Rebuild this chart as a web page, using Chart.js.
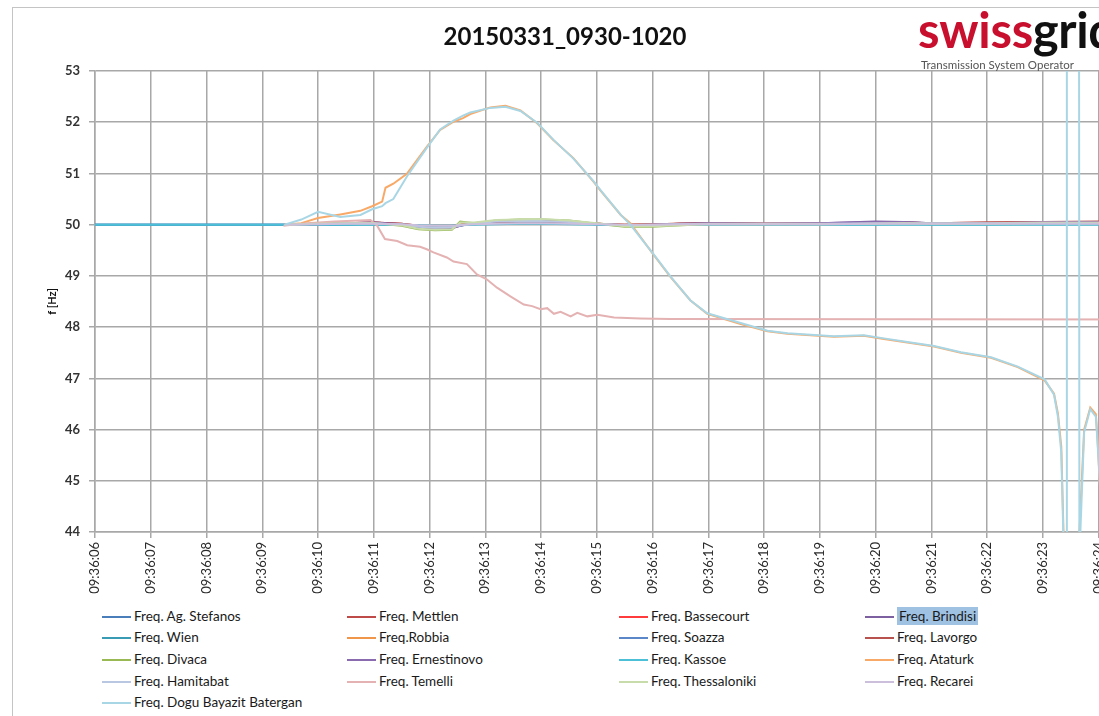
<!DOCTYPE html>
<html>
<head>
<meta charset="utf-8">
<script src="https://cdn.jsdelivr.net/npm/chart.js@4.4.1/dist/chart.umd.min.js"></script>
<style>
  html, body { margin: 0; padding: 0; background: #fff; overflow: hidden; }
  body { width: 1099px; height: 716px; position: relative; font-family: Lato, "Open Sans", sans-serif; }
  .frame { position: absolute; left: 12px; top: 7px; width: 1200px; height: 800px;
           border-left: 1.5px solid #c4c4c4; border-top: 1.5px solid #c4c4c4; }
  #wrap { position: absolute; left: 0; top: 0; width: 1174px; height: 600px; }
  .title { position: absolute; left: 365px; width: 400px; top: 21px; text-align: center;
           font-weight: bold; font-size: 24px; color: #111; }
  .logo { position: absolute; left: 918px; top: 3px; white-space: nowrap; }
  .logo .word { font-weight: bold; font-size: 49px; line-height: 52px; letter-spacing: -0.3px; }
  .logo .red { color: #c8102e; }
  .logo .blk { color: #111; }
  .logo .sub { position: absolute; left: 3px; top: 55px; font-size: 11.5px; color: #555; }
  .leg { position: absolute; height: 18px; line-height: 18px; font-size: 13.5px; color: #1a1a1a; white-space: nowrap; }
  .leg i { display: inline-block; width: 29px; height: 2px; vertical-align: middle; margin-right: 3px; position: relative; top: -1px; }
  .leg span.sel { background: #9fc2e2; padding: 1px 2px; }
</style>
</head>
<body>
<div class="frame"></div>
<div id="wrap"><canvas id="chart"></canvas></div>
<div class="title">20150331_0930-1020</div>
<div class="logo">
  <div class="word"><span class="red">swiss</span><span class="blk">grid</span></div>
  <div class="sub">Transmission System Operator</div>
</div>
<div id="legend"></div>

<script>
// ── TICK LABELS ─────────────────────────────────────────────
const xTickLabels = ['09:36:06', '09:36:07', '09:36:08', '09:36:09', '09:36:10', '09:36:11',
  '09:36:12', '09:36:13', '09:36:14', '09:36:15', '09:36:16', '09:36:17', '09:36:18',
  '09:36:19', '09:36:20', '09:36:21', '09:36:22', '09:36:23', '09:36:24', '09:36:25'];

const seriesNames = ['Freq. Ag. Stefanos', 'Freq. Mettlen', 'Freq. Bassecourt', 'Freq. Brindisi',
  'Freq. Wien', 'Freq.Robbia', 'Freq. Soazza', 'Freq. Lavorgo',
  'Freq. Divaca', 'Freq. Ernestinovo', 'Freq. Kassoe', 'Freq. Ataturk',
  'Freq. Hamitabat', 'Freq. Temelli', 'Freq. Thessaloniki', 'Freq. Recarei',
  'Freq. Dogu Bayazit Batergan'];

const seriesColors = ['#4a7ebb', '#be4b48', '#ff3b3b', '#7d60a0',
  '#3a9bb5', '#f0964a', '#5b87c8', '#b8524e',
  '#98b954', '#8a6bb0', '#4bc0d6', '#f9a967',
  '#b9c7e2', '#e4b2b2', '#c8dbaa', '#cbbfdc',
  '#a9d6e5'];

// ── TIME BASES (seconds after 09:36:00) ─────────────────────
const tFlat = [6, 9.4, 10, 10.5, 11, 11.5, 11.8, 12.1, 12.4, 12.55, 12.8, 13.2, 13.6, 14.0,
  14.5, 15.0, 15.5, 16, 16.5, 17, 18, 19, 20, 20.5, 21, 22, 23, 24, 25];

const tRise = [9.4, 9.7, 10.0, 10.4, 10.76, 10.97, 11.15, 11.21, 11.35, 11.6, 11.95, 12.19,
  12.43, 12.6, 12.73, 13.09, 13.36, 13.63, 13.93, 14.22, 14.58, 14.94, 15.07, 15.43, 15.6,
  16.02, 16.32, 16.68, 16.98, 17.58, 18.06, 18.42, 19.25, 19.79, 20.15, 20.57, 21.05, 21.53,
  22.07, 22.55, 23.03, 23.2, 23.27, 23.33, 23.37, 23.42, 23.43, 23.645, 23.655, 23.74, 23.85,
  23.95, 23.98, 24.02, 24.1, 24.3, 25];

const tTemelli = [9.38, 9.8, 10.3, 10.94, 11.06, 11.2, 11.42, 11.6, 11.83, 11.95, 12.07, 12.31,
  12.43, 12.67, 12.85, 13.03, 13.21, 13.45, 13.69, 13.84, 13.99, 14.11, 14.23, 14.35, 14.53,
  14.65, 14.83, 15.01, 15.31, 15.78, 16.32, 25];

// ── SERIES VALUES [Hz] ──────────────────────────────────────
const agStefanos  = [50.0, 50.0, 50.0, 50.01, 50.02, 50.0, 49.97, 49.96, 49.97, 49.99, 50.02, 50.04, 50.05, 50.05, 50.04, 50.01, 49.99, 50.0, 50.01, 50.02, 50.01, 50.01, 50.02, 50.03, 50.02, 50.02, 50.03, 50.03, 50.03];
const mettlen     = [null, 50.0, 50.01, 50.03, 50.04, 50.02, 49.98, 49.96, 49.97, 50.0, 50.03, 50.05, 50.06, 50.06, 50.05, 50.02, 50.0, 50.01, 50.02, 50.03, 50.02, 50.02, 50.03, 50.04, 50.03, 50.04, 50.05, 50.05, 50.05];
const bassecourt  = [null, 50.0, 50.01, 50.02, 50.03, 50.01, 49.97, 49.95, 49.96, 49.99, 50.02, 50.05, 50.06, 50.06, 50.05, 50.02, 49.99, 50.0, 50.02, 50.02, 50.01, 50.02, 50.03, 50.03, 50.03, 50.03, 50.04, 50.05, 50.05];
const brindisi    = [null, 50.0, 50.02, 50.03, 50.04, 50.01, 49.95, 49.93, 49.93, 49.98, 50.03, 50.06, 50.07, 50.07, 50.05, 50.02, 49.99, 50.0, 50.02, 50.03, 50.02, 50.03, 50.06, 50.05, 50.03, 50.03, 50.04, 50.04, 50.04];
const wien        = [50.0, 50.0, 50.0, 50.0, 50.01, 50.0, 49.98, 49.97, 49.98, 49.99, 50.01, 50.03, 50.04, 50.04, 50.03, 50.01, 49.99, 50.0, 50.0, 50.01, 50.01, 50.01, 50.01, 50.02, 50.01, 50.01, 50.02, 50.02, 50.02];
const robbia      = [null, 50.0, 50.01, 50.02, 50.03, 50.01, 49.97, 49.96, 49.97, 50.0, 50.02, 50.04, 50.05, 50.05, 50.04, 50.02, 50.0, 50.01, 50.02, 50.02, 50.02, 50.02, 50.03, 50.03, 50.03, 50.03, 50.04, 50.04, 50.04];
const soazza      = [50.0, 50.0, 50.0, 50.01, 50.02, 50.0, 49.97, 49.96, 49.97, 49.99, 50.02, 50.04, 50.05, 50.05, 50.04, 50.01, 49.99, 50.0, 50.01, 50.02, 50.01, 50.01, 50.02, 50.02, 50.02, 50.02, 50.03, 50.03, 50.03];
const lavorgo     = [null, 50.0, 50.01, 50.03, 50.04, 50.02, 49.98, 49.96, 49.97, 50.0, 50.03, 50.05, 50.06, 50.06, 50.05, 50.02, 50.0, 50.01, 50.02, 50.03, 50.02, 50.02, 50.03, 50.04, 50.03, 50.04, 50.05, 50.06, 50.06];
const divaca      = [null, 50.0, 50.02, 50.03, 50.03, 49.98, 49.91, 49.89, 49.9, 50.06, 50.03, 50.08, 50.1, 50.1, 50.08, 50.02, 49.96, 49.96, 49.99, 50.01, 50.01, 50.01, 50.02, 50.03, 50.02, 50.02, 50.03, 50.03, 50.03];
const ernestinovo = [null, 50.0, 50.02, 50.03, 50.04, 50.01, 49.95, 49.93, 49.94, 49.98, 50.03, 50.06, 50.07, 50.07, 50.05, 50.02, 49.99, 50.0, 50.02, 50.03, 50.02, 50.03, 50.05, 50.05, 50.03, 50.03, 50.04, 50.04, 50.04];
const kassoe      = [50.0, 50.0, 50.0, 50.0, 50.0, 50.0, 49.99, 49.98, 49.98, 49.99, 50.0, 50.01, 50.02, 50.02, 50.01, 50.0, 49.99, 49.99, 50.0, 50.0, 50.0, 50.0, 50.0, 50.0, 50.0, 50.0, 50.0, 50.0, 50.0];
const hamitabat   = [null, 50.0, 50.02, 50.03, 50.03, 50.0, 49.96, 49.94, 49.95, 49.99, 50.03, 50.06, 50.07, 50.07, 50.05, 50.02, 49.99, 50.0, 50.01, 50.02, 50.02, 50.02, 50.03, 50.03, 50.03, 50.03, 50.04, 50.04, 50.04];
const thessaloniki= [null, 50.0, 50.02, 50.03, 50.03, 49.99, 49.92, 49.9, 49.91, 50.04, 50.04, 50.09, 50.1, 50.11, 50.08, 50.03, 49.97, 49.97, 49.99, 50.01, 50.01, 50.01, 50.02, 50.03, 50.02, 50.02, 50.03, 50.03, 50.03];
const recarei     = [null, 50.0, 50.01, 50.02, 50.02, 50.01, 49.99, 49.98, 49.98, 49.99, 50.01, 50.02, 50.03, 50.03, 50.02, 50.01, 50.0, 50.0, 50.01, 50.01, 50.01, 50.01, 50.02, 50.02, 50.02, 50.02, 50.02, 50.02, 50.02];

const ataturk = [50.0, 50.03, 50.13, 50.2, 50.27, 50.36, 50.45, 50.72, 50.8, 51.0, 51.52, 51.85,
  52.01, 52.08, 52.16, 52.29, 52.32, 52.23, 51.98, 51.65, 51.3, 50.84, 50.66, 50.19, 50.03,
  49.41, 48.98, 48.52, 48.26, 48.06, 47.92, 47.87, 47.81, 47.83, 47.77, 47.7, 47.62, 47.5,
  47.4, 47.22, 46.96, 46.7, 46.31, 45.67, 44.0, 43.2, 43.1, 43.5, 44.0, 46.0, 46.43,
  46.3, 45.8, 45.0, 44.0, 43.5, 43.5];
const doguBayazit = [50.0, 50.1, 50.25, 50.15, 50.19, 50.3, 50.36, 50.42, 50.5, 50.95, 51.5, 51.86,
  52.03, 52.13, 52.19, 52.28, 52.3, 52.22, 51.99, 51.66, 51.29, 50.85, 50.67, 50.19, 50.0,
  49.42, 48.99, 48.52, 48.27, 48.08, 47.93, 47.88, 47.82, 47.84, 47.78, 47.71, 47.63, 47.51,
  47.41, 47.23, 46.98, 46.68, 46.25, 45.55, 43.8, 43.0, 60.0, 60.0, 43.5, 45.95, 46.4,
  46.25, 45.75, 44.95, 43.9, 43.5, 43.5];

const temelli = [49.98, 50.03, 50.06, 50.09, 49.98, 49.72, 49.68, 49.6, 49.57, 49.52, 49.46, 49.36,
  49.28, 49.23, 49.03, 48.93, 48.77, 48.6, 48.44, 48.41, 48.35, 48.37, 48.26, 48.3, 48.21,
  48.28, 48.21, 48.24, 48.19, 48.17, 48.16, 48.15];

// series -> [times, values], same order as the legend
const seriesData = [
  [tFlat, agStefanos], [tFlat, mettlen], [tFlat, bassecourt], [tFlat, brindisi],
  [tFlat, wien], [tFlat, robbia], [tFlat, soazza], [tFlat, lavorgo],
  [tFlat, divaca], [tFlat, ernestinovo], [tFlat, kassoe], [tRise, ataturk],
  [tFlat, hamitabat], [tTemelli, temelli], [tFlat, thessaloniki], [tFlat, recarei],
  [tRise, doguBayazit]
];

// ── LEGEND (HTML, 4 columns) ────────────────────────────────
const legCols = [102, 347, 619, 865];
const legRows = [607, 628, 650, 672, 693];
const legendEl = document.getElementById('legend');
seriesNames.forEach((name, i) => {
  const d = document.createElement('div');
  d.className = 'leg';
  d.style.left = legCols[i % 4] + 'px';
  d.style.top = legRows[Math.floor(i / 4)] + 'px';
  const sel = name === 'Freq. Brindisi' ? ' class="sel"' : '';
  d.innerHTML = '<i style="background:' + seriesColors[i] + '"></i><span' + sel + '>' + name + '</span>';
  legendEl.appendChild(d);
});

// ── CHART ───────────────────────────────────────────────────
const gridColor = '#a8a8a8';

const datasets = seriesData.map(([ts, vs], i) => ({
  label: seriesNames[i],
  data: ts.map((t, k) => ({ x: t, y: vs[k] })),
  borderColor: seriesColors[i],
  borderWidth: 2,
  pointRadius: 0,
  tension: 0,
  spanGaps: false,
  order: -i,          // later series on top, like the spreadsheet
}));

new Chart(document.getElementById('chart'), {
  type: 'line',
  data: { datasets },
  options: {
    responsive: true,
    maintainAspectRatio: false,
    animation: false,
    layout: { padding: { left: 46, top: 71, right: 0, bottom: 0 } },
    plugins: { legend: { display: false }, tooltip: { enabled: false } },
    scales: {
      x: {
        type: 'linear',
        min: 6,
        max: 25,
        afterFit: s => { s.height = 68; },
        grid: { color: gridColor, lineWidth: 1.5, tickLength: 6, tickColor: gridColor },
        border: { color: gridColor, width: 1.5 },
        ticks: {
          stepSize: 1,
          autoSkip: false,
          minRotation: 90,
          maxRotation: 90,
          padding: 4,
          color: '#2a2a2a',
          font: { family: 'Lato', size: 13 },
          callback: v => xTickLabels[Math.round(v - 6)]
        }
      },
      y: {
        min: 44,
        max: 53,
        afterFit: s => { s.width = 49; },
        grid: { color: gridColor, lineWidth: 1.5, tickLength: 6, tickColor: gridColor },
        border: { color: gridColor, width: 1.5 },
        title: { display: true, text: 'f [Hz]', color: '#111', font: { family: 'Lato', size: 11, weight: 'bold' }, padding: 0 },
        ticks: {
          stepSize: 1,
          padding: 9,
          color: '#333',
          font: { family: 'Lato', size: 13, weight: 'bold' }
        }
      }
    }
  }
});
</script>
</body>
</html>
